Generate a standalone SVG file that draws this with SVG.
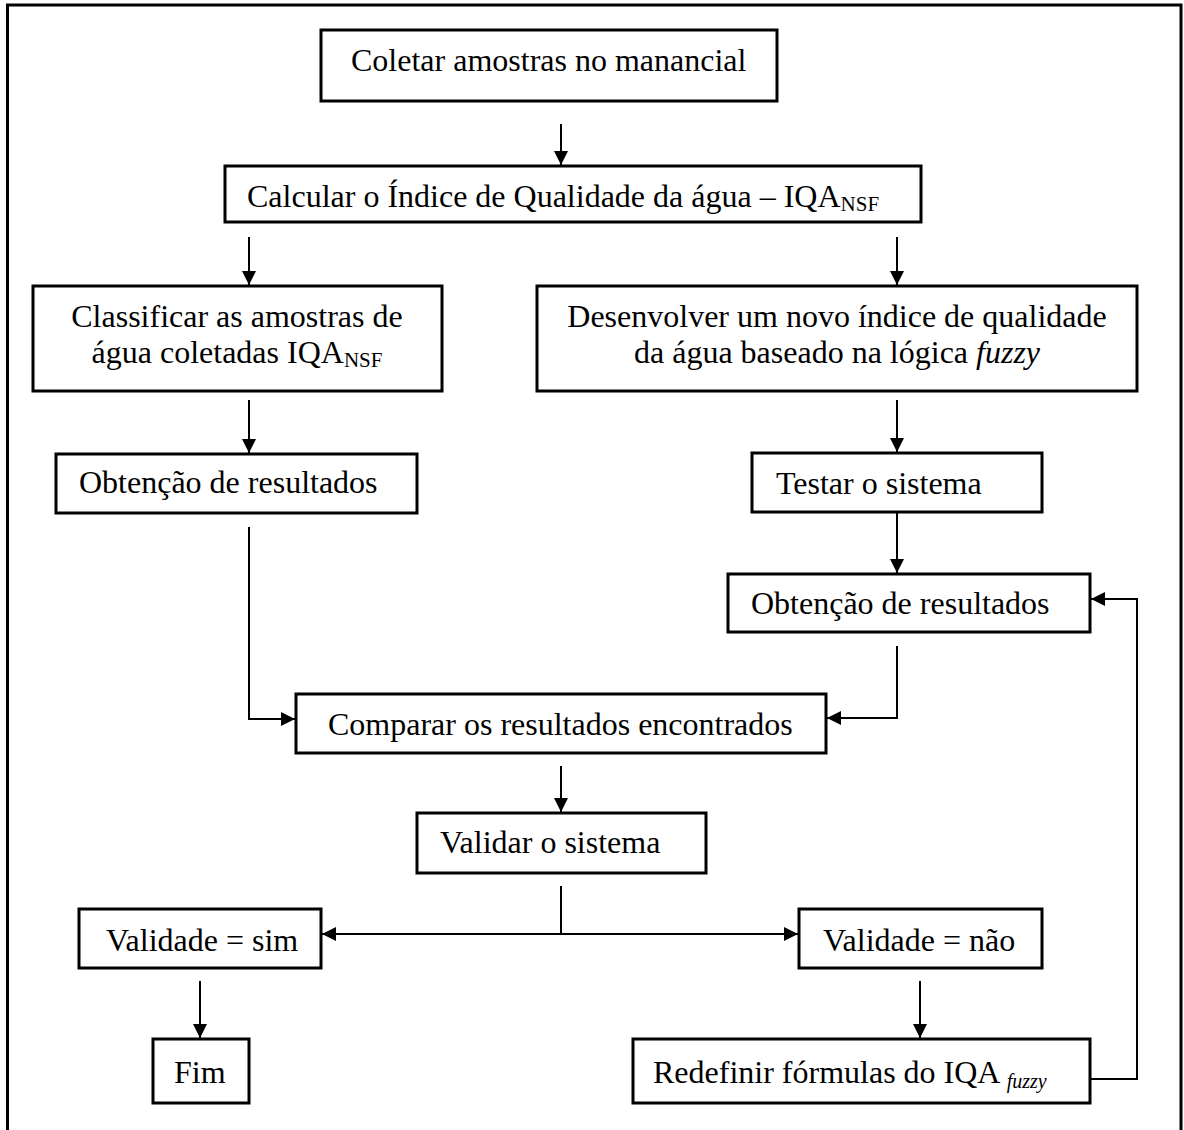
<svg xmlns="http://www.w3.org/2000/svg" width="1184" height="1130" viewBox="0 0 1184 1130">
<style>
.box{fill:#fff;stroke:#000;stroke-width:3}
.t{font-family:"Liberation Serif","Times New Roman",serif;font-size:32px;fill:#000}
.c{text-anchor:middle}
.con{fill:none;stroke:#000;stroke-width:2}
.arr{marker-end:url(#ah)}
</style>
<defs>
<marker id="ah" markerUnits="userSpaceOnUse" markerWidth="14" markerHeight="14" refX="14" refY="7" orient="auto-start-reverse">
<path d="M0,0 L14,7 L0,14 z" fill="#000"/>
</marker>
</defs>
<rect width="1184" height="1130" fill="#fff"/>
<rect id="frame" x="7.5" y="5" width="1173.5" height="1140" fill="none" stroke="#000" stroke-width="3"/>

<g id="connectors">
<line class="con arr" x1="561" y1="124" x2="561" y2="165"/>
<line class="con arr" x1="249" y1="237" x2="249" y2="285"/>
<line class="con arr" x1="897" y1="237" x2="897" y2="285"/>
<line class="con arr" x1="249" y1="400" x2="249" y2="453"/>
<line class="con arr" x1="897" y1="400" x2="897" y2="452"/>
<line class="con arr" x1="897" y1="512" x2="897" y2="573"/>
<polyline class="con arr" points="249,527 249,719 295,719"/>
<polyline class="con arr" points="897,646 897,718 827,718"/>
<line class="con arr" x1="561" y1="766" x2="561" y2="812"/>
<line class="con" x1="561" y1="886" x2="561" y2="934"/>
<line class="con" x1="322" y1="934" x2="798" y2="934" marker-start="url(#ah)" marker-end="url(#ah)"/>
<line class="con arr" x1="200" y1="981" x2="200" y2="1038"/>
<line class="con arr" x1="920" y1="981" x2="920" y2="1038"/>
<polyline class="con arr" points="1091,1079 1137,1079 1137,599 1091,599"/>
</g>

<g id="n1"><rect class="box" x="321" y="30" width="456" height="71"/>
<text class="t" x="351" y="71">Coletar amostras no manancial</text></g>

<g id="n2"><rect class="box" x="225" y="166" width="696" height="56"/>
<text class="t" x="247" y="207">Calcular o Índice de Qualidade da água – IQA<tspan font-size="21" dy="4">NSF</tspan></text></g>

<g id="n3"><rect class="box" x="33" y="286" width="409" height="105"/>
<text class="t c" x="237" y="327">Classificar as amostras de</text>
<text class="t c" x="237" y="363">água coletadas IQA<tspan font-size="21" dy="4">NSF</tspan></text></g>

<g id="n4"><rect class="box" x="537" y="286" width="600" height="105"/>
<text class="t c" x="837" y="327">Desenvolver um novo índice de qualidade</text>
<text class="t c" x="837" y="363">da água baseado na lógica <tspan font-style="italic">fuzzy</tspan></text></g>

<g id="n5"><rect class="box" x="56" y="454" width="361" height="59"/>
<text class="t" x="79" y="493">Obtenção de resultados</text></g>

<g id="n6"><rect class="box" x="752" y="453" width="290" height="59"/>
<text class="t" x="776" y="494">Testar o sistema</text></g>

<g id="n7"><rect class="box" x="728" y="574" width="362" height="58"/>
<text class="t" x="751" y="614">Obtenção de resultados</text></g>

<g id="n8"><rect class="box" x="296" y="694" width="530" height="59"/>
<text class="t" x="328" y="735">Comparar os resultados encontrados</text></g>

<g id="n9"><rect class="box" x="417" y="813" width="289" height="60"/>
<text class="t" x="440" y="853">Validar o sistema</text></g>

<g id="n10"><rect class="box" x="79" y="909" width="242" height="59"/>
<text class="t" x="106" y="951">Validade = sim</text></g>

<g id="n11"><rect class="box" x="799" y="909" width="243" height="59"/>
<text class="t" x="823" y="951">Validade = não</text></g>

<g id="n12"><rect class="box" x="153" y="1039" width="96" height="64"/>
<text class="t" x="174" y="1083">Fim</text></g>

<g id="n13"><rect class="box" x="633" y="1039" width="457" height="64"/>
<text class="t" x="653" y="1083">Redefinir fórmulas do IQA <tspan font-size="20" font-style="italic" dy="5">fuzzy</tspan></text></g>
</svg>
